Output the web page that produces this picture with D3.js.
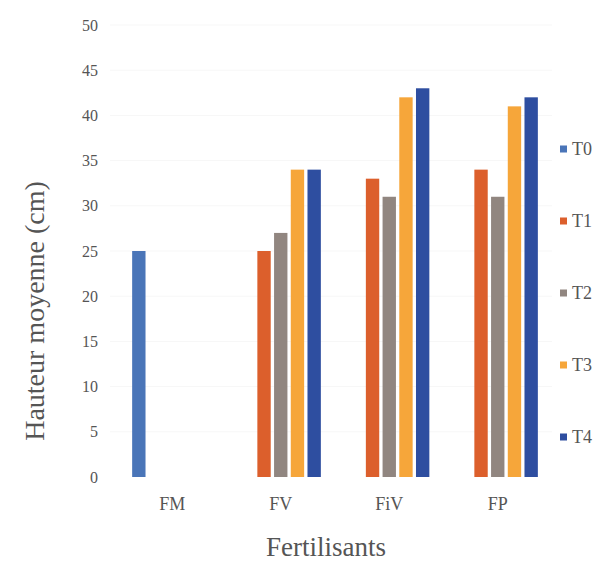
<!DOCTYPE html>
<html lang="fr">
<head>
    <meta charset="UTF-8">
    <title>Hauteur moyenne</title>
    <script src="https://d3js.org/d3.v7.min.js"></script>
    <style>
        body { margin: 0; background: #fff; }
        svg text { font-family: "Liberation Serif", "DejaVu Serif", serif; fill: #555; }
    </style>
</head>
<body>
    <svg id="chart" width="602" height="566"></svg>
    <script>
        // data
        const categories = ["FM", "FV", "FiV", "FP"];
        const series = ["T0", "T1", "T2", "T3", "T4"];
        const T0 = [25, null, null, null];
        const T1 = [null, 25, 33, 34];
        const T2 = [null, 27, 31, 31];
        const T3 = [null, 34, 42, 41];
        const T4 = [null, 34, 43, 42];
        const yTicks = [0, 5, 10, 15, 20, 25, 30, 35, 40, 45, 50];
        const colors = ["#4a75b8", "#dc5f2c", "#918680", "#f6a63a", "#2e4ea0"];

        const values = [T0, T1, T2, T3, T4];
        const serif = "Liberation Serif, DejaVu Serif, serif";

        const svg = d3.select("#chart");

        const y = d3.scaleLinear().domain([0, 50]).range([477, 25]);
        const x0 = d3.scaleBand().domain(categories).range([118, 552])
            .paddingInner(0.23).paddingOuter(0.115);
        const x1 = d3.scaleBand().domain(series).range([0, x0.bandwidth()])
            .paddingInner(0.2).paddingOuter(0.1);

        // very faint gridlines
        svg.append("g")
            .selectAll("line")
            .data(yTicks.slice(1))
            .join("line")
            .attr("x1", 110).attr("x2", 552)
            .attr("y1", d => y(d)).attr("y2", d => y(d))
            .attr("stroke", "#f7f7f7");

        // y axis (labels only)
        const yAxis = svg.append("g")
            .attr("transform", "translate(104,0)")
            .attr("font-family", serif)
            .call(d3.axisLeft(y).tickValues(yTicks).tickSize(0).tickPadding(6));
        yAxis.select(".domain").remove();
        yAxis.selectAll("text").style("font-size", "16px");

        // x axis (labels only)
        const xAxis = svg.append("g")
            .attr("transform", "translate(0,477)")
            .attr("font-family", serif)
            .call(d3.axisBottom(x0).tickSize(0).tickPadding(20));
        xAxis.select(".domain").remove();
        xAxis.selectAll("text").style("font-size", "18px");

        // bars
        const rows = [];
        categories.forEach((c, i) => {
            series.forEach((s, j) => {
                if (values[j][i] != null) rows.push({cat: c, ser: s, val: values[j][i], k: j});
            });
        });

        svg.append("g")
            .selectAll("rect")
            .data(rows)
            .join("rect")
            .attr("x", d => x0(d.cat) + x1(d.ser))
            .attr("y", d => y(d.val))
            .attr("width", x1.bandwidth())
            .attr("height", d => y(0) - y(d.val))
            .attr("fill", d => colors[d.k]);

        // axis titles
        svg.append("text")
            .attr("transform", "translate(34,311) rotate(-90)")
            .attr("text-anchor", "middle")
            .attr("dy", "0.35em")
            .attr("font-family", serif)
            .style("font-size", "28px")
            .text("Hauteur moyenne (cm)");

        svg.append("text")
            .attr("x", 326).attr("y", 556)
            .attr("text-anchor", "middle")
            .attr("font-family", serif)
            .style("font-size", "27px")
            .text("Fertilisants");

        // legend
        const legend = svg.append("g")
            .selectAll("g")
            .data(series)
            .join("g")
            .attr("transform", (d, i) => `translate(560,${149 + i * 72})`);
        legend.append("rect")
            .attr("x", 0).attr("y", -3.5)
            .attr("width", 7).attr("height", 7)
            .attr("fill", (d, i) => colors[i]);
        legend.append("text")
            .attr("x", 12).attr("dy", "0.35em")
            .attr("font-family", serif)
            .style("font-size", "18px")
            .text(d => d);
    </script>
</body>
</html>
